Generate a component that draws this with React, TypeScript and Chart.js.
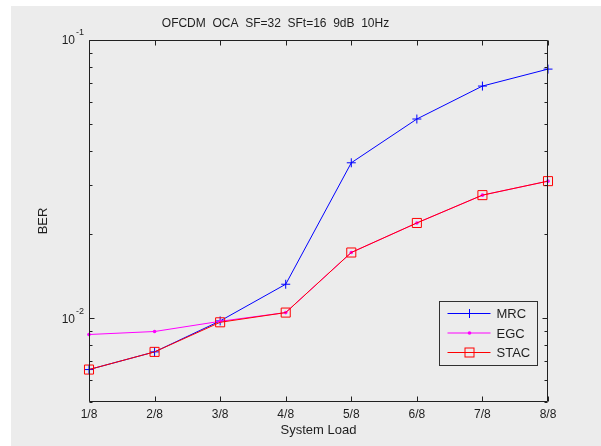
import React, { useEffect, useRef } from "react";
import { Chart, registerables } from "chart.js";

Chart.register(...registerables);

const categories = ["1/8", "2/8", "3/8", "4/8", "5/8", "6/8", "7/8", "8/8"];
const mrc = [0.00654, 0.00757, 0.00978, 0.01325, 0.0362, 0.052, 0.0683, 0.0786];
const egc = [0.00874, 0.00896, 0.00975, 0.01048, 0.01723, 0.022, 0.0277, 0.0311];
const stac = [0.00654, 0.00757, 0.00967, 0.01048, 0.01723, 0.022, 0.0277, 0.0311];
const yMajorTicks = [0.01, 0.1];
const yMajorExp = ["-2", "-1"];
const yMinorTicks = [0.005, 0.006, 0.007, 0.008, 0.009, 0.02, 0.03, 0.04, 0.05, 0.06, 0.07, 0.08, 0.09];
const titleText = "OFCDM  OCA  SF=32  SFt=16  9dB  10Hz";
const legendNames = ["MRC", "EGC", "STAC"];
const legendColors = ["#0000ff", "#ff00ff", "#ff0000"];

const FONT = "'Liberation Sans', Arial, Helvetica, sans-serif";
const TEXT = "#1e1e1e";
const BG = "rgb(236,236,236)";

const matlabPlugin = {
  id: "matlabDecor",
  afterDraw(chart: any) {
    const ctx = chart.ctx;
    const a = chart.chartArea;
    const ys = chart.scales.y;
    const xs = chart.scales.x;
    const L = Math.round(a.left) + 0.5;
    const R = Math.round(a.right) - 0.5;
    const T = Math.round(a.top) + 0.5;
    const B = Math.round(a.bottom) - 0.5;
    ctx.save();
    ctx.strokeStyle = "#202020";
    ctx.lineWidth = 1;
    // box
    ctx.beginPath();
    ctx.moveTo(L, T); ctx.lineTo(R, T); ctx.lineTo(R, B); ctx.lineTo(L, B); ctx.closePath();
    ctx.stroke();
    // y ticks
    const yTick = (v: number, len: number) => {
      const py = Math.round(ys.getPixelForValue(v)) + 0.5;
      ctx.beginPath();
      ctx.moveTo(L, py); ctx.lineTo(L + len, py);
      ctx.moveTo(R, py); ctx.lineTo(R - len, py);
      ctx.stroke();
    };
    yMajorTicks.forEach((v) => yTick(v, 5));
    yMinorTicks.forEach((v) => yTick(v, 3));
    // x ticks
    categories.forEach((_, i) => {
      const px = Math.round(xs.getPixelForValue(i)) + 0.5;
      ctx.beginPath();
      ctx.moveTo(px, B); ctx.lineTo(px, B - 5);
      ctx.moveTo(px, T); ctx.lineTo(px, T + 5);
      ctx.stroke();
    });
    // y tick labels with superscripts
    ctx.fillStyle = TEXT;
    yMajorTicks.forEach((v, i) => {
      const py = ys.getPixelForValue(v);
      ctx.font = `12px ${FONT}`;
      ctx.textAlign = "right";
      ctx.textBaseline = "middle";
      ctx.fillText("10", a.left - 14, py + 1);
      ctx.font = `9px ${FONT}`;
      ctx.textAlign = "left";
      ctx.fillText(yMajorExp[i], a.left - 13, py - 7);
    });
    // title
    ctx.font = `12px ${FONT}`;
    ctx.textAlign = "center";
    ctx.textBaseline = "middle";
    ctx.fillText(titleText, 264.5, 18);
    // legend
    const bx = Math.round(a.right) - 108.5;
    const by = Math.round(a.bottom) - 100.5;
    const bw = 98;
    const bh = 64;
    ctx.fillStyle = BG;
    ctx.fillRect(bx, by, bw, bh);
    ctx.strokeStyle = "#303030";
    ctx.strokeRect(bx, by, bw, bh);
    legendNames.forEach((name, i) => {
      const ly = by + 12 + i * 19.5;
      const c = legendColors[i];
      ctx.strokeStyle = c;
      ctx.lineWidth = 1;
      ctx.beginPath();
      ctx.moveTo(bx + 8, ly); ctx.lineTo(bx + 51, ly);
      ctx.stroke();
      const mx = bx + 30;
      if (i === 0) {
        ctx.beginPath();
        ctx.moveTo(mx - 4.5, ly); ctx.lineTo(mx + 4.5, ly);
        ctx.moveTo(mx, ly - 4.5); ctx.lineTo(mx, ly + 4.5);
        ctx.stroke();
      } else if (i === 1) {
        ctx.fillStyle = c;
        ctx.beginPath();
        ctx.arc(mx, ly, 1.8, 0, Math.PI * 2);
        ctx.fill();
      } else {
        ctx.strokeRect(mx - 4.5, ly - 4.5, 9, 9);
      }
      ctx.fillStyle = TEXT;
      ctx.font = `13px ${FONT}`;
      ctx.textAlign = "left";
      ctx.textBaseline = "middle";
      ctx.fillText(name, bx + 57, ly + 1);
    });
    ctx.restore();
  },
};

export default function App() {
  const ref = useRef<HTMLCanvasElement | null>(null);
  useEffect(() => {
    if (!ref.current) return;
    const chart = new Chart(ref.current, {
      type: "line",
      data: {
        labels: categories,
        datasets: [
          {
            label: "MRC",
            data: mrc,
            borderColor: "#0000ff",
            backgroundColor: "#0000ff",
            borderWidth: 1,
            pointStyle: "cross",
            pointRadius: 4.5,
            pointBorderWidth: 1,
            pointBorderColor: "#0000ff",
            order: 2,
          },
          {
            label: "EGC",
            data: egc,
            borderColor: "#ff00ff",
            backgroundColor: "#ff00ff",
            borderWidth: 1,
            pointStyle: "circle",
            pointRadius: 1.8,
            pointBorderWidth: 0,
            pointBackgroundColor: "#ff00ff",
            order: 1,
          },
          {
            label: "STAC",
            data: stac,
            borderColor: "#ff0000",
            backgroundColor: "rgba(0,0,0,0)",
            borderWidth: 1,
            pointStyle: "rect",
            pointRadius: 6.4,
            pointBorderWidth: 1,
            pointBorderColor: "#ff0000",
            pointBackgroundColor: "rgba(0,0,0,0)",
            order: 0,
          },
        ],
      },
      options: {
        animation: false,
        responsive: false,
        maintainAspectRatio: false,
        events: [],
        layout: { padding: { left: 0, right: 53, top: 34, bottom: 0 } },
        plugins: {
          legend: { display: false },
          tooltip: { enabled: false },
          title: { display: false },
        },
        scales: {
          x: {
            type: "category",
            offset: false,
            grid: { display: false, drawTicks: false },
            border: { display: false },
            ticks: {
              color: TEXT,
              font: { family: FONT, size: 12 },
              padding: 5,
              maxRotation: 0,
              autoSkip: false,
            },
            title: {
              display: true,
              text: "System Load",
              color: TEXT,
              font: { family: FONT, size: 13 },
              padding: { top: 0, bottom: 8 },
            },
            afterFit: (s: any) => { s.height = 44; },
          },
          y: {
            type: "logarithmic",
            min: 0.005,
            max: 0.1,
            grid: { display: false, drawTicks: false },
            border: { display: false },
            ticks: { display: false },
            title: {
              display: true,
              text: "BER",
              color: TEXT,
              font: { family: FONT, size: 13 },
              padding: { top: 25, bottom: 0 },
            },
            afterFit: (s: any) => { s.width = 78; },
          },
        },
      },
      plugins: [matlabPlugin],
    } as any);
    return () => chart.destroy();
  }, []);
  return (
    <div style={{ position: "absolute", left: 0, top: 0, width: 601, height: 446, background: "#ffffff" }}>
      <div style={{ position: "absolute", left: 11, top: 6, width: 590, height: 440, background: BG }}>
        <canvas ref={ref} width={590} height={440} style={{ display: "block", width: 590, height: 440 }} />
      </div>
    </div>
  );
}
